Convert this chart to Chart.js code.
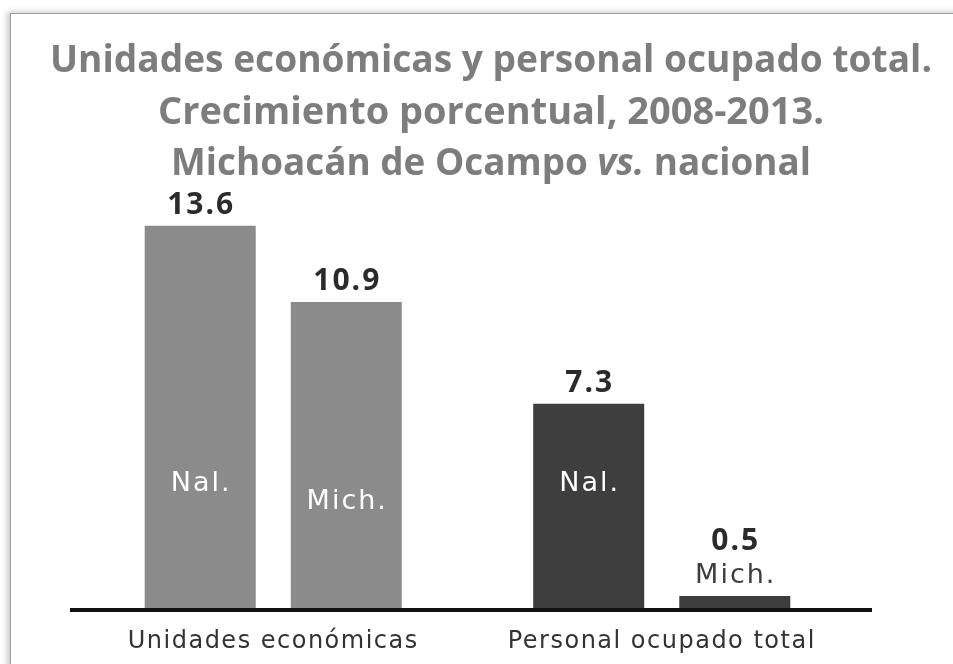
<!DOCTYPE html>
<html lang="es">
<head>
<meta charset="utf-8">
<title>Unidades económicas y personal ocupado total</title>
<script src="https://cdn.jsdelivr.net/npm/chart.js@4.4.1/dist/chart.umd.min.js"></script>
<style>
  html, body { margin: 0; padding: 0; background: #fff; overflow: hidden; }
  #wrap { position: relative; width: 953px; height: 664px; overflow: hidden; }
  #frame {
    position: absolute; left: 10px; top: 13px; width: 1000px; height: 720px;
    border-left: 1px solid #9c9c9c; border-top: 1px solid #9c9c9c;
    box-shadow: -3px -1px 6px rgba(0,0,0,0.22); background: #fff;
  }
  canvas { position: absolute; left: 0; top: 0; }
</style>
</head>
<body>
<div id="wrap">
  <div id="frame"></div>
  <canvas id="chart" width="953" height="664"></canvas>
</div>
<script>
// Growth 2008-2013 (%), national vs. Michoacán
const categories = ['Unidades económicas', 'Personal ocupado total'];
const seriesNames = ['Nal.', 'Mich.'];
const nacional = [13.6, 7.3];
const michoacan = [10.9, 0.5];

// Title, line by line; the "vs." is set in italics
const titleLine1 = [{ text: 'Unidades económicas y personal ocupado total.' }];
const titleLine2 = [{ text: 'Crecimiento porcentual, 2008-2013.' }];
const titleLine3 = [{ text: 'Michoacán de Ocampo ' }, { text: 'vs.', italic: true }, { text: ' nacional' }];

// one tone per category: light grey for establishments, dark grey for employment
const categoryColors = ['#8b8b8b', '#3e3e3e'];

// Three-line title, each line fitted to its own width
const fittedTitle = {
  id: 'fittedTitle',
  afterDraw(chart, args, opts) {
    const ctx = chart.ctx;
    const lines = [titleLine1, titleLine2, titleLine3];
    lines.forEach((segs, li) => {
      ctx.save();
      ctx.letterSpacing = '0px';
      ctx.fillStyle = opts.color;
      ctx.textBaseline = 'alphabetic';
      ctx.textAlign = 'left';
      const fontFor = s => (s.italic ? 'italic ' : '') + opts.font;
      let natural = 0;
      segs.forEach(s => { ctx.font = fontFor(s); natural += ctx.measureText(s.text).width; });
      const f = opts.widths[li] / natural;
      ctx.translate(opts.centerX - opts.widths[li] / 2, opts.baselines[li]);
      ctx.scale(f, 1);
      let x = 0;
      segs.forEach(s => {
        ctx.font = fontFor(s);
        ctx.fillText(s.text, x, 0);
        x += ctx.measureText(s.text).width;
      });
      ctx.restore();
    });
  }
};

// Spaced lettering for the category axis
const axisLettering = {
  id: 'axisLettering',
  beforeDraw(chart) { chart.ctx.letterSpacing = '1.5px'; },
  afterDraw(chart) { chart.ctx.letterSpacing = '0px'; }
};

// Heavy baseline running a little past the bars
const baseLine = {
  id: 'baseLine',
  afterDatasetsDraw(chart, args, opts) {
    const { ctx, chartArea } = chart;
    const y = chart.scales.y.getPixelForValue(0);
    ctx.save();
    ctx.strokeStyle = opts.color;
    ctx.lineWidth = opts.width;
    ctx.beginPath();
    ctx.moveTo(chartArea.left - opts.extendLeft, y);
    ctx.lineTo(chartArea.right + opts.extendRight, y);
    ctx.stroke();
    ctx.restore();
  }
};

// Value on top of each bar, series name inside it (or just above when the bar is too short)
const barLabels = {
  id: 'barLabels',
  afterDatasetsDraw(chart, args, opts) {
    const ctx = chart.ctx;
    chart.data.datasets.forEach((ds, di) => {
      const meta = chart.getDatasetMeta(di);
      meta.data.forEach((bar, i) => {
        const top = bar.y, base = bar.base, x = bar.x;
        ctx.save();
        ctx.textAlign = 'center';
        ctx.textBaseline = 'middle';
        ctx.font = opts.nameFont;
        ctx.letterSpacing = opts.nameSpacing;
        const half = opts.nameHeight / 2;
        let nameY = base - opts.nameOffsets[di];
        let aboveTop = top;
        if (nameY - half - 6 >= top) {
          ctx.fillStyle = opts.nameColorInside;
        } else {
          nameY = top - half - 6;
          aboveTop = nameY - half;
          ctx.fillStyle = opts.nameColorOutside;
        }
        ctx.fillText(ds.label, x + 1, nameY);

        ctx.textBaseline = 'alphabetic';
        ctx.font = opts.valueFont;
        ctx.letterSpacing = opts.valueSpacing;
        ctx.fillStyle = opts.valueColor;
        ctx.fillText(ds.data[i].toFixed(1), x + 1, aboveTop - opts.valueGap);
        ctx.restore();
      });
    });
  }
};

new Chart(document.getElementById('chart'), {
  type: 'bar',
  data: {
    labels: categories,
    datasets: [
      { label: seriesNames[0], data: nacional, backgroundColor: categoryColors },
      { label: seriesNames[1], data: michoacan, backgroundColor: categoryColors }
    ]
  },
  options: {
    responsive: false,
    animation: false,
    events: [],
    layout: { padding: { left: 79, right: 97, top: 158, bottom: 0 } },
    datasets: {
      bar: { categoryPercentage: 0.752, barPercentage: 0.76, borderWidth: 0 }
    },
    scales: {
      x: {
        grid: { display: false, drawTicks: false },
        border: { display: false },
        ticks: {
          color: '#333333',
          padding: 17,
          font: { family: '"DejaVu Sans"', size: 24 }
        },
        afterFit(scale) { scale.height = 54; }
      },
      y: { display: false, min: 0, max: 16 }
    },
    plugins: {
      legend: { display: false },
      tooltip: { enabled: false },
      title: { display: false },
      fittedTitle: {
        font: 'bold 38px "Open Sans"',
        color: '#7d7d7d',
        centerX: 491,
        widths: [882, 666, 640],
        baselines: [72, 124, 175]
      },
      baseLine: { color: '#111111', width: 4, extendLeft: 9, extendRight: 16 },
      barLabels: {
        nameFont: '27px "DejaVu Sans"',
        nameSpacing: '2px',
        nameHeight: 28,
        nameOffsets: [126, 108],
        nameColorInside: '#ffffff',
        nameColorOutside: '#3e3e3e',
        valueFont: 'bold 30px "Open Sans"',
        valueSpacing: '2px',
        valueColor: '#2b2b2b',
        valueGap: 12
      }
    }
  },
  plugins: [axisLettering, baseLine, barLabels, fittedTitle]
});
</script>
</body>
</html>
